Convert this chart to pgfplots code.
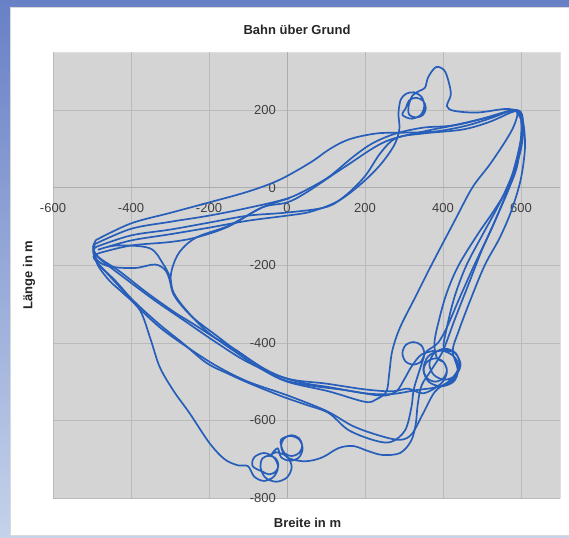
\documentclass[border=0pt]{standalone}
\usepackage{fontspec}
\setmainfont{Liberation Sans}
\usepackage{pgfplots}
\pgfplotsset{compat=1.18}
\definecolor{track}{RGB}{38,94,186}
\definecolor{plotbg}{RGB}{212,212,212}
\definecolor{gridc}{RGB}{186,186,186}
\pgfplotsset{trk/.style={track, line width=1.7pt, smooth, tension=0.55, mark=none}}
\begin{document}
\begin{tikzpicture}[x=1pt,y=1pt]
\useasboundingbox (0,0) rectangle (569,537);
\shade[top color={rgb,255:red,104;green,128;blue,198}, bottom color={rgb,255:red,196;green,210;blue,234}] (0,0) rectangle (569,537);
\fill[white, draw=black!15] (10.5,2) rectangle (575,530);
\begin{axis}[
  at={(53pt,39pt)}, anchor=south west,
  scale only axis, width=507pt, height=446pt,
  xmin=-600, xmax=700, ymin=-800, ymax=350,
  enlargelimits=false,
  axis lines=middle,
  axis line style={-, draw=black!32, line width=0.6pt},
  axis background/.style={fill=plotbg, draw=black!12},
  xtick={-600,-400,...,600}, ytick={-800,-600,...,200},
  grid=major, major grid style={gridc, line width=0.6pt},
  major tick length=0pt,
  hide obscured x ticks=false, hide obscured y ticks=false,
  /pgf/number format/assume math mode=true,
  tick label style={font=\fontsize{13}{15}\selectfont, text=black!75, inner sep=0pt},
  xticklabel style={anchor=north, yshift=-15pt},
  yticklabel style={anchor=east, xshift=-11pt},
]
% Lap A
\addplot[trk] coordinates {(-490,-135) (-400,-92) (-300,-65) (-200,-38) (-100,-10) (-20,20) (60,65) (110,100) (160,125) (230,140) (300,142) (380,145) (460,160) (530,182) (575,200) (597,195) (607,160) (610,100) (599,20) (575,-60) (545,-130) (507,-200) (470,-290) (440,-370) (425,-420) (438,-470) (427,-500) (395,-512) (363,-500) (350,-468) (362,-435) (395,-420) (428,-435) (440,-465) (420,-500) (380,-515) (330,-522) (268,-532) (200,-530) (107,-514) (50,-505) (-13,-488) (-70,-460) (-130,-419) (-180,-390) (-242,-350) (-290,-320) (-360,-270) (-430,-215) (-482,-180) (-497,-155) (-490,-135)};
% Lap B
\addplot[trk] coordinates {(-492,-145) (-400,-106) (-300,-88) (-200,-72) (-100,-52) (0,-28) (60,0) (110,30) (170,80) (220,115) (280,140) (350,155) (420,160) (500,178) (570,198) (595,195) (602,150) (591,60) (570,0) (540,-70) (518,-120) (480,-200) (440,-290) (410,-360) (387,-400) (360,-420) (352,-430) (344,-448) (324,-456) (304,-448) (296,-427) (304,-406) (324,-398) (344,-406) (352,-430) (340,-470) (325,-520) (319,-566) (303,-625) (268,-655) (226,-652) (158,-625) (107,-581) (50,-560) (-13,-538) (-97,-504) (-150,-480) (-206,-452) (-267,-401) (-330,-350) (-395,-290) (-440,-240) (-485,-195) (-497,-165) (-492,-145)};
% Lap C
\addplot[trk] coordinates {(-488,-152) (-400,-123) (-300,-108) (-200,-90) (-100,-72) (0,-64) (100,-50) (150,-20) (200,30) (240,90) (280,128) (350,140) (450,150) (520,170) (580,196) (598,190) (600,130) (585,60) (566,0) (530,-60) (489,-120) (440,-200) (410,-270) (390,-340) (378,-400) (385,-440) (401,-449) (410,-470) (401,-491) (380,-500) (359,-491) (350,-470) (359,-449) (380,-440) (401,-449) (410,-475) (395,-505) (350,-530) (310,-518) (270,-525) (200,-520) (100,-505) (0,-492) (-100,-450) (-180,-400) (-260,-345) (-340,-290) (-420,-230) (-478,-185) (-496,-162) (-488,-152)};
% Lap D (thermal loops at the top)
\addplot[trk] coordinates {(-485,-160) (-400,-136) (-300,-120) (-200,-103) (-100,-85) (0,-72) (60,-62) (130,-35) (190,10) (240,60) (275,110) (288,150) (286,185) (287,205) (292,228) (305,242) (325,246) (345,234) (352,211) (343,188) (319,178) (296,188) (305,206) (313,225) (331,232) (349,224) (356,206) (349,188) (331,181) (313,189) (312,212) (322,238) (340,250) (354,258) (362,285) (382,311) (403,303) (414,275) (420,240) (410,210) (430,198) (489,194) (560,203) (590,195) (582,160) (560,120) (520,60) (475,0) (430,-85) (370,-200) (330,-280) (290,-360) (270,-420) (262,-480) (255,-525) (230,-545) (200,-552) (107,-525) (0,-500) (-70,-465) (-130,-425) (-200,-375) (-242,-334) (-275,-295) (-293,-265) (-300,-231) (-318,-196) (-352,-156) (-436,-149) (-485,-160)};
% Lap E
\addplot[trk] coordinates {(-480,-168) (-400,-149) (-300,-140) (-232,-128) (-150,-100) (-64,-51) (0,-38) (50,-12) (150,55) (250,118) (350,145) (450,165) (530,185) (592,200) (605,170) (598,110) (580,40) (545,-40) (502,-120) (460,-200) (430,-280) (410,-360) (402,-415) (430,-425) (445,-455) (433,-483) (405,-495) (377,-483) (365,-455) (377,-427) (405,-415) (433,-427) (442,-460) (420,-495) (380,-525) (350,-580) (320,-635) (290,-650) (240,-640) (170,-615) (100,-575) (0,-535) (-100,-500) (-180,-460) (-250,-415) (-320,-365) (-380,-310) (-430,-255) (-480,-200) (-496,-178) (-480,-168)};
% Lap F (circles in the south)
\addplot[trk] coordinates {(-495,-165) (-485,-200) (-455,-240) (-420,-272) (-377,-316) (-350,-390) (-326,-463) (-290,-525) (-250,-581) (-199,-658) (-160,-700) (-125,-716) (-100,-718) (-84,-745) (-59,-756) (-34,-745) (-23,-720) (-34,-695) (-59,-684) (-84,-695) (-88,-718) (-63,-732) (-46,-739) (-29,-732) (-22,-715) (-29,-698) (-46,-691) (-63,-698) (-68,-720) (-56,-747) (-28,-758) (0,-747) (12,-720) (0,-693) (-28,-682) (-40,-688) (-24,-672) (-15,-695) (8,-704) (31,-695) (40,-672) (31,-649) (8,-640) (-15,-649) (-15,-665) (-7,-684) (12,-692) (31,-684) (39,-665) (31,-646) (12,-638) (-7,-646) (-15,-668) (0,-695) (38,-705) (70,-702) (97,-692) (133,-671) (170,-666) (208,-679) (245,-689) (290,-684) (318,-653) (330,-610) (335,-560) (345,-510) (370,-470) (400,-420) (430,-340) (465,-250) (500,-160) (540,-70) (575,20) (600,100) (605,160) (590,195)};
% start and south-west loop
\addplot[trk] coordinates {(7,-27) (-64,-51) (-150,-98) (-232,-128) (-275,-165) (-295,-210) (-298,-250) (-285,-285) (-242,-334) (-180,-382) (-130,-420) (-70,-460) (-13,-494) (60,-510) (150,-522) (242,-536) (280,-525) (300,-495) (320,-460) (345,-430) (380,-420)};
\addplot[trk] coordinates {(-497,-150) (-488,-185) (-455,-203) (-390,-207) (-338,-198) (-310,-215) (-298,-250)};
\end{axis}
\node[font=\fontsize{13}{15}\selectfont\bfseries, text=black!85] at (297,507) {Bahn über Grund};
\node[font=\fontsize{13}{15}\selectfont\bfseries, text=black!85] at (307.5,14) {Breite in m};
\node[font=\fontsize{13}{15}\selectfont\bfseries, text=black!85, rotate=90] at (29,262) {Länge in m};
\end{tikzpicture}
\end{document}
